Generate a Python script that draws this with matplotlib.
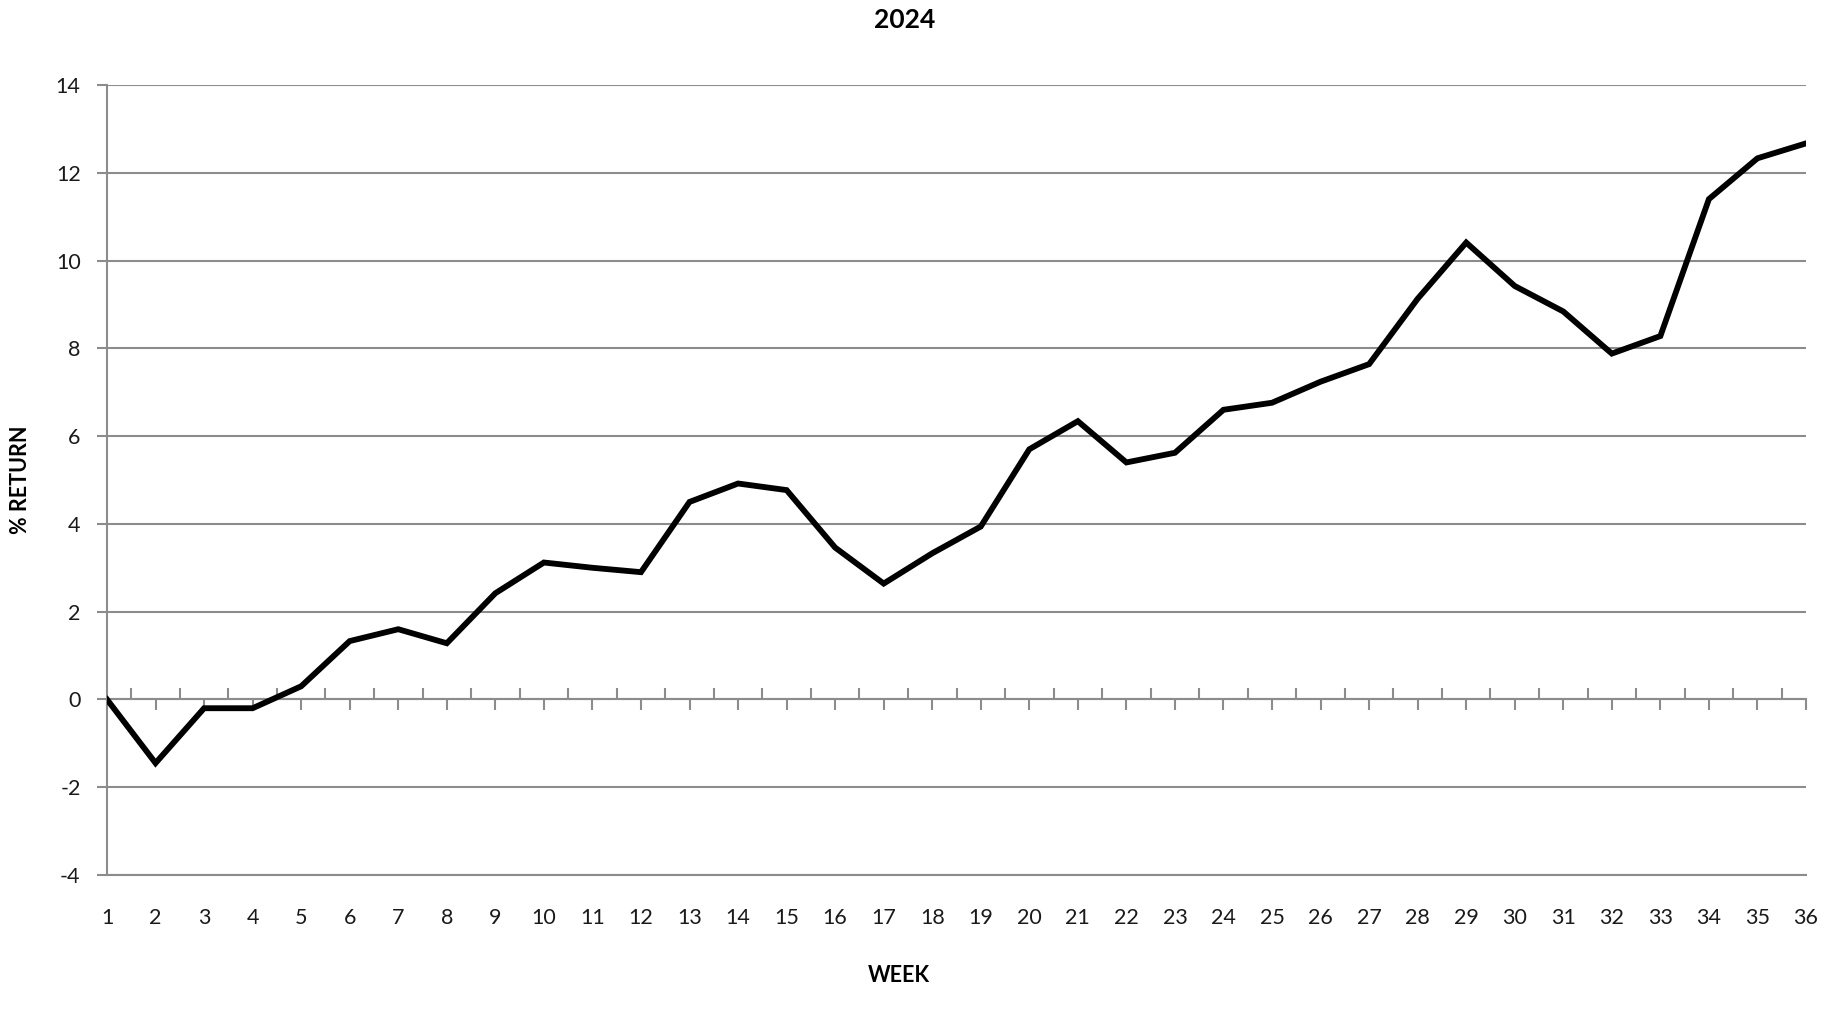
import matplotlib
matplotlib.use('Agg')
import matplotlib.pyplot as plt
from matplotlib.ticker import MultipleLocator, FixedLocator

plt.rcParams['font.family'] = ['Lato', 'DejaVu Sans']
plt.rcParams['axes.unicode_minus'] = False

# Weekly cumulative % return, 2024
weeks = list(range(1, 37))
returns = [0.0, -1.45, -0.2, -0.2, 0.3, 1.33, 1.6, 1.28, 2.42, 3.12,
           3.0, 2.9, 4.5, 4.92, 4.77, 3.46, 2.64, 3.33, 3.94, 5.7,
           6.34, 5.4, 5.62, 6.6, 6.76, 7.24, 7.64, 9.13, 10.41, 9.42,
           8.84, 7.88, 8.28, 11.4, 12.33, 12.67]
y_ticks = list(range(-4, 15, 2))

grid_color = '#8c8c8c'

fig = plt.figure(figsize=(18.32, 10.14), dpi=100)
ax = fig.add_axes([107 / 1832, 1 - 875 / 1014, (1806 - 107) / 1832, (875 - 85) / 1014])

ax.plot(weeks, returns, color='black', linewidth=4.2, solid_joinstyle='miter', zorder=5)

ax.set_xlim(weeks[0], weeks[-1])
ax.set_ylim(y_ticks[0], y_ticks[-1])
ax.set_yticks(y_ticks)
ax.yaxis.grid(True, color=grid_color, linewidth=1.5)
ax.set_axisbelow(True)

for s in ['top', 'right']:
    ax.spines[s].set_visible(False)
ax.spines['left'].set_color(grid_color)
ax.spines['left'].set_linewidth(1.5)
ax.spines['bottom'].set_position(('data', 0))
ax.spines['bottom'].set_color(grid_color)
ax.spines['bottom'].set_linewidth(1.5)

ax.tick_params(axis='y', colors=grid_color, length=7, width=1.5, labelsize=15.5,
               labelcolor='#1a1a1a', pad=12)

# category ticks on the zero line (Excel-like cross ticks)
ax.xaxis.set_major_locator(FixedLocator(weeks))
ax.xaxis.set_minor_locator(MultipleLocator(0.5))
ax.tick_params(axis='x', which='major', direction='out', length=8, width=1.5,
               colors=grid_color, labelbottom=False)
ax.tick_params(axis='x', which='minor', direction='in', length=8, width=1.5,
               colors=grid_color)

# week labels below the plot
sec = ax.secondary_xaxis('bottom')
sec.set_xticks(weeks)
sec.set_xticklabels([str(w) for w in weeks])
sec.tick_params(length=0, labelsize=15.5, labelcolor='#1a1a1a', pad=24)
sec.spines['bottom'].set_color(grid_color)
sec.spines['bottom'].set_linewidth(1.5)

fig.text(899 / 1832, 1 - 976 / 1014, 'WEEK', ha='center', va='center',
         fontsize=15.5, fontweight='bold')
ax.set_ylabel('% RETURN', fontsize=15.5, fontweight='bold', labelpad=18)
fig.suptitle('2024', x=0.494, y=0.992, fontsize=19, fontweight='bold')

fig.savefig('out.png', dpi=100)
